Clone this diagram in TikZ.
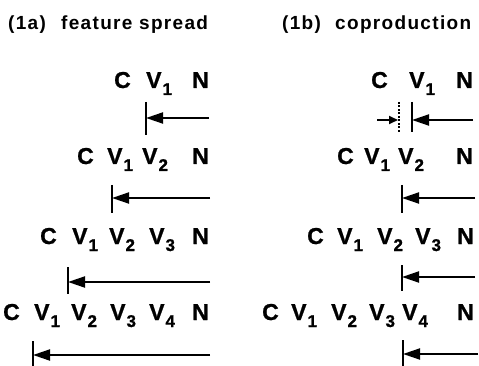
\documentclass[tikz,border=0pt]{standalone}
\usepackage{fontspec}
\setmainfont{Liberation Sans}
\usetikzlibrary{arrows.meta}

\newcommand{\vsub}[1]{V\kern1pt\raisebox{-7pt}{\fontsize{17}{17}\selectfont #1}}

\begin{document}
\begin{tikzpicture}[x={(1pt,0pt)}, y={(0pt,-1pt)},
  seg/.style={font=\fontsize{23}{23}\selectfont\bfseries\addfontfeature{FakeBold=1}, inner sep=0, anchor=base west},
  head/.style={font=\fontsize{19}{19}\selectfont\bfseries\addfontfeature{LetterSpace=7}, inner sep=0, anchor=base west},
  bar/.style={line width=2},
  dotbar/.style={line width=1.5, dash pattern=on 2pt off 1.5pt},
  push/.style={line width=2, -{Triangle[length=17pt,width=11pt]}},
  nudge/.style={line width=2, -{Triangle[length=9pt,width=8pt]}}]

  \useasboundingbox (0,0) rectangle (479,366);

  %%%%%%%%%%%%%%%% TITLES %%%%%%%%%%%%%%%%
  \node[head] (ta) at (8,30) {(1a)};
  \node[head] (tafs) at (61,30) {feature spread};
  \node[head] (tb) at (282,30) {(1b)};
  \node[head] (tbco) at (335,30) {coproduction};

  %%%%%%%%%% (1a) strings %%%%%%%%%%
  \node[seg] (a1c) at (114,88) {C};
  \node[seg] (a1v1) at (146,88) {\vsub{1}};
  \node[seg] (a1n) at (192,88) {N};

  \node[seg] (a2c) at (77,164) {C};
  \node[seg] (a2v1) at (107,164) {\vsub{1}};
  \node[seg] (a2v2) at (142,164) {\vsub{2}};
  \node[seg] (a2n) at (192,164) {N};

  \node[seg] (a3c) at (40,244) {C};
  \node[seg] (a3v1) at (72,244) {\vsub{1}};
  \node[seg] (a3v2) at (109,244) {\vsub{2}};
  \node[seg] (a3v3) at (149,244) {\vsub{3}};
  \node[seg] (a3n) at (192,244) {N};

  \node[seg] (a4c) at (3,320) {C};
  \node[seg] (a4v1) at (34,320) {\vsub{1}};
  \node[seg] (a4v2) at (71,320) {\vsub{2}};
  \node[seg] (a4v3) at (110,320) {\vsub{3}};
  \node[seg] (a4v4) at (149,320) {\vsub{4}};
  \node[seg] (a4n) at (192,320) {N};

  %%%%%%%%%% (1b) strings %%%%%%%%%%
  \node[seg] (b1c) at (371,88) {C};
  \node[seg] (b1v1) at (409,88) {\vsub{1}};
  \node[seg] (b1n) at (456,88) {N};

  \node[seg] (b2c) at (337,164) {C};
  \node[seg] (b2v1) at (364,164) {\vsub{1}};
  \node[seg] (b2v2) at (398,164) {\vsub{2}};
  \node[seg] (b2n) at (456,164) {N};

  \node[seg] (b3c) at (307,244) {C};
  \node[seg] (b3v1) at (337,244) {\vsub{1}};
  \node[seg] (b3v2) at (377,244) {\vsub{2}};
  \node[seg] (b3v3) at (415,244) {\vsub{3}};
  \node[seg] (b3n) at (457,244) {N};

  \node[seg] (b4c) at (262,320) {C};
  \node[seg] (b4v1) at (291,320) {\vsub{1}};
  \node[seg] (b4v2) at (331,320) {\vsub{2}};
  \node[seg] (b4v3) at (369,320) {\vsub{3}};
  \node[seg] (b4v4) at (402,320) {\vsub{4}};
  \node[seg] (b4n) at (457,320) {N};

  %%%%%%%%%% Points pour les fleches %%%%%%%%%%
  \coordinate (a1t) at (146,102);
  \coordinate (a1b) at (146,135);
  \coordinate (a1s) at (146,118);
  \coordinate (a1e) at (209,118);
  \coordinate (a2t) at (112,185);
  \coordinate (a2b) at (112,213);
  \coordinate (a2s) at (112,198);
  \coordinate (a2e) at (210,198);
  \coordinate (a3t) at (68,267);
  \coordinate (a3b) at (68,294);
  \coordinate (a3s) at (68,282);
  \coordinate (a3e) at (210,282);
  \coordinate (a4t) at (33,341);
  \coordinate (a4b) at (33,366);
  \coordinate (a4s) at (33,355);
  \coordinate (a4e) at (210,355);

  \coordinate (b1dt) at (399,102);
  \coordinate (b1db) at (399,132);
  \coordinate (b1d) at (398,120);
  \coordinate (b1f) at (377,120);
  \coordinate (b1t) at (412,102);
  \coordinate (b1b) at (412,132);
  \coordinate (b1s) at (412,120);
  \coordinate (b1e) at (473,120);
  \coordinate (b2t) at (402,185);
  \coordinate (b2b) at (402,213);
  \coordinate (b2s) at (402,198);
  \coordinate (b2e) at (475,198);
  \coordinate (b3t) at (402,265);
  \coordinate (b3b) at (402,291);
  \coordinate (b3s) at (402,277);
  \coordinate (b3e) at (475,277);
  \coordinate (b4t) at (403,340);
  \coordinate (b4b) at (403,366);
  \coordinate (b4s) at (403,354);
  \coordinate (b4e) at (478,354);

  % Feature spread arrows
  \draw[bar] (a1t) -- (a1b);
  \draw[push] (a1e) -- (a1s);
  \draw[bar] (a2t) -- (a2b);
  \draw[push] (a2e) -- (a2s);
  \draw[bar] (a3t) -- (a3b);
  \draw[push] (a3e) -- (a3s);
  \draw[bar] (a4t) -- (a4b);
  \draw[push] (a4e) -- (a4s);

  % Coproduction arrows
  \draw[dotbar] (b1dt) -- (b1db);
  \draw[nudge] (b1f) -- (b1d);
  \draw[bar] (b1t) -- (b1b);
  \draw[push] (b1e) -- (b1s);
  \draw[bar] (b2t) -- (b2b);
  \draw[push] (b2e) -- (b2s);
  \draw[bar] (b3t) -- (b3b);
  \draw[push] (b3e) -- (b3s);
  \draw[bar] (b4t) -- (b4b);
  \draw[push] (b4e) -- (b4s);

\end{tikzpicture}
\end{document}
